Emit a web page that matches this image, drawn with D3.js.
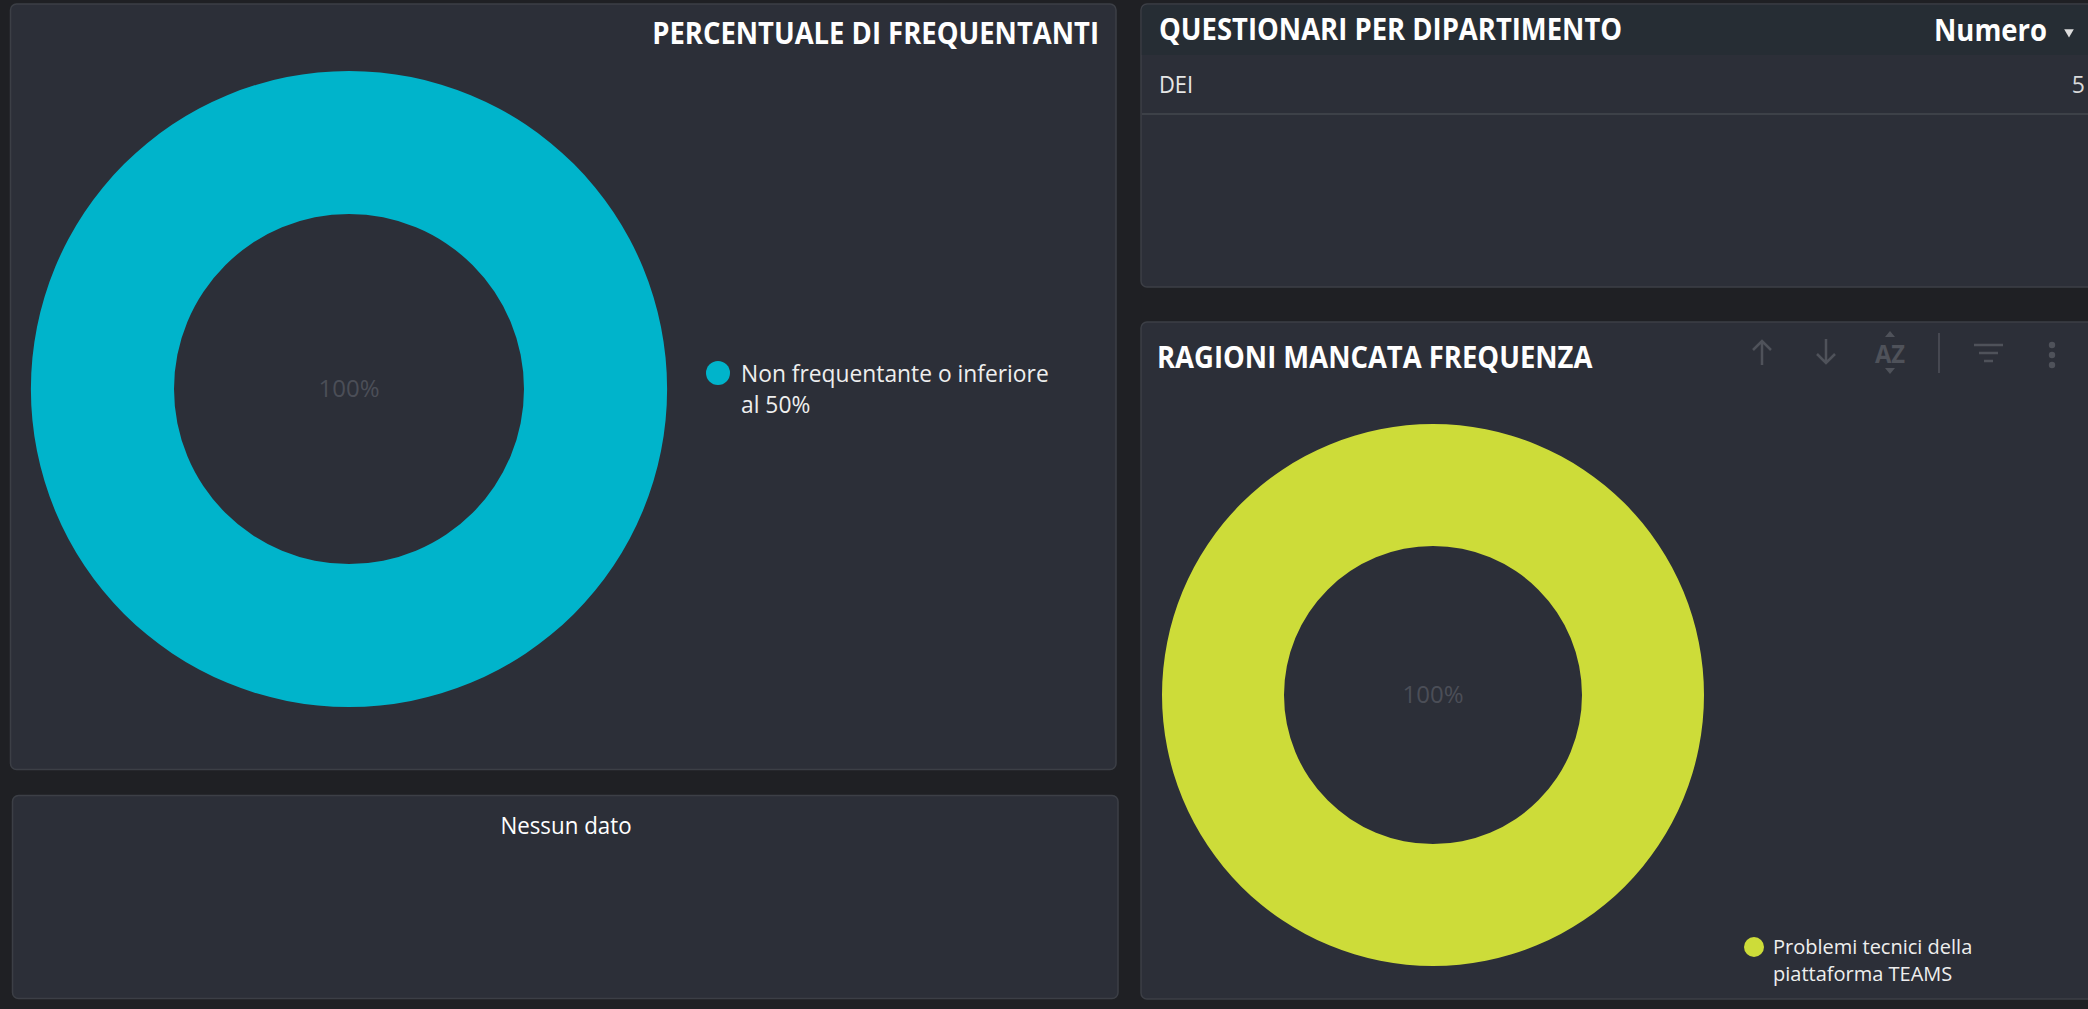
<!DOCTYPE html>
<html>
<head>
<meta charset="utf-8">
<script src="https://cdn.jsdelivr.net/npm/d3@7"></script>
<style>
  html, body { margin: 0; padding: 0; background: #1f2024; }
  svg { display: block; font-family: "Open Sans", "Noto Sans", sans-serif; }
</style>
</head>
<body>
<div id="dash"></div>
<script>
const freqLabels = ["Non frequentante o inferiore al 50%"];
const freqValues = [100];
const freqColors = ["#00b4cb"];

const deptNames = ["DEI"];
const deptCounts = [5];
const deptHeaders = ["QUESTIONARI PER DIPARTIMENTO", "Numero"];

const reasonLabels = ["Problemi tecnici della piattaforma TEAMS"];
const reasonValues = [100];
const reasonColors = ["#cddc39"];

const titles = ["PERCENTUALE DI FREQUENTANTI", "RAGIONI MANCATA FREQUENZA"];
const emptyText = "Nessun dato";

const W = 2088, H = 1009;
const svg = d3.select("#dash").append("svg").attr("width", W).attr("height", H);
svg.append("rect").attr("width", W).attr("height", H).attr("fill", "#1f2024");

// rende il testo un po' più stretto (il font originale è condensato)
function condense(sel, k) {
  sel.each(function () {
    const w = this.getComputedTextLength();
    d3.select(this).attr("textLength", w * k).attr("lengthAdjust", "spacingAndGlyphs");
  });
}

function panel(x, y, w, h) {
  return svg.append("rect")
    .attr("x", x).attr("y", y).attr("width", w).attr("height", h)
    .attr("rx", 6)
    .attr("fill", "#2c2f38")
    .attr("stroke", "#3c3f46")
    .attr("stroke-width", 1.5);
}

// titolo in grassetto, stile condensato
function title(x, y, txt, anchor) {
  return svg.append("text")
    .attr("x", x).attr("y", y)
    .attr("text-anchor", anchor || "start")
    .attr("font-size", 31).attr("font-weight", 700)
    .attr("fill", "#ffffff")
    .text(txt)
    .call(condense, 0.885);
}

// testo a capo su più righe
function wrapText(g, label, x, y, maxW, lineH, size, k) {
  const words = label.split(" ");
  const lines = [];
  let cur = [];
  const probe = g.append("text").attr("font-size", size);
  for (const w of words) {
    const test = cur.concat([w]).join(" ");
    probe.text(test);
    if (probe.node().getComputedTextLength() * k > maxW && cur.length) {
      lines.push(cur.join(" "));
      cur = [w];
    } else cur.push(w);
  }
  lines.push(cur.join(" "));
  probe.remove();
  lines.forEach((l, i) => {
    g.append("text")
      .attr("x", x).attr("y", y + i * lineH)
      .attr("font-size", size)
      .attr("fill", "#eeeeee")
      .text(l)
      .call(condense, k);
  });
}

function donut(cx, cy, rOut, rIn, labels, values, colors, lbl) {
  const g = svg.append("g").attr("transform", `translate(${cx},${cy})`);
  const pie = d3.pie().sort(null).value(d => d)(values);
  const arc = d3.arc().innerRadius(rIn).outerRadius(rOut);
  const color = d3.scaleOrdinal().domain(labels).range(colors);
  g.selectAll("path").data(pie).enter().append("path")
    .attr("d", arc)
    .attr("fill", (d, i) => color(labels[i]));
  const total = d3.sum(values);
  g.append("text")
    .attr("text-anchor", "middle")
    .attr("y", 8)
    .attr("font-size", lbl)
    .attr("fill", "#4b4e57")
    .text(d3.format(".0%")(values[0] / total));
  return color;
}

// ---- pannello 1: percentuale di frequentanti ----
panel(10.5, 4, 1105.5, 765.5);
title(1099, 44, titles[0], "end");

const c1 = donut(349, 389, 318, 175, freqLabels, freqValues, freqColors, 24);
const leg1 = svg.append("g");
freqLabels.forEach((l, i) => {
  leg1.append("circle").attr("cx", 718).attr("cy", 373 + i * 40).attr("r", 12).attr("fill", c1(l));
  wrapText(leg1, l, 741, 382 + i * 40, 320, 31, 24, 0.95);
});

// ---- pannello 3: nessun dato ----
panel(12.5, 795.5, 1105.5, 203);
svg.append("text")
  .attr("x", 566).attr("y", 834)
  .attr("text-anchor", "middle")
  .attr("font-size", 23)
  .attr("fill", "#ffffff")
  .text(emptyText)
  .call(condense, 0.97);

// ---- pannello 2: tabella questionari ----
panel(1141, 4, 960, 283);
svg.append("path")
  .attr("d", "M1141.75,55 V10 a5.5,5.5 0 0 1 5.5,-5.25 H2088 V55 Z")
  .attr("fill", "#262d34");
title(1159, 40, deptHeaders[0]);
title(2047, 41, deptHeaders[1], "end");
svg.append("path")
  .attr("d", d3.symbol(d3.symbolTriangle, 40)())
  .attr("transform", "translate(2069,32) rotate(180)")
  .attr("fill", "#dddddd");

const rowY = d3.scaleBand().domain(deptNames).range([55, 55 + 59 * deptNames.length]);
const rows = svg.append("g").selectAll("g").data(deptNames).enter().append("g");
rows.append("text")
  .attr("x", 1159).attr("y", d => rowY(d) + 38)
  .attr("font-size", 23).attr("fill", "#e6e6e6")
  .text(d => d)
  .call(condense, 0.95);
rows.append("text")
  .attr("x", 2085).attr("y", d => rowY(d) + 38)
  .attr("text-anchor", "end")
  .attr("font-size", 23).attr("fill", "#d9d9d9")
  .text((d, i) => deptCounts[i]);
rows.append("line")
  .attr("x1", 1142).attr("x2", W)
  .attr("y1", d => rowY(d) + rowY.bandwidth())
  .attr("y2", d => rowY(d) + rowY.bandwidth())
  .attr("stroke", "#3d4148").attr("stroke-width", 2);

// ---- pannello 4: ragioni mancata frequenza ----
panel(1141, 322, 960, 677);
title(1157, 368, titles[1]);

// icone della barra strumenti
const ic = svg.append("g").attr("stroke", "#4f525a").attr("fill", "none").attr("stroke-width", 2.5);
ic.append("path").attr("d", "M1762,365 V341 M1753,350 L1762,341 L1771,350");
ic.append("path").attr("d", "M1826,339 V363 M1817,354 L1826,363 L1835,354");
ic.append("line").attr("x1", 1939).attr("x2", 1939).attr("y1", 333).attr("y2", 373).attr("stroke-width", 1.5);
ic.append("path").attr("d", "M1974,345 H2003 M1979,353 H1998 M1984,361 H1993");
svg.append("text")
  .attr("x", 1890).attr("y", 363)
  .attr("text-anchor", "middle")
  .attr("font-size", 25).attr("font-weight", 700)
  .attr("fill", "#4f525a")
  .text("AZ")
  .call(condense, 0.95);
svg.append("path").attr("d", "M1885,337 L1890,331 L1895,337 Z M1885,368 L1890,374 L1895,368 Z").attr("fill", "#4f525a");
[345, 355, 365].forEach(y => svg.append("circle").attr("cx", 2052).attr("cy", y).attr("r", 3.2).attr("fill", "#4f525a"));

const c2 = donut(1433, 695, 271, 149, reasonLabels, reasonValues, reasonColors, 24);
const leg2 = svg.append("g");
reasonLabels.forEach((l, i) => {
  leg2.append("circle").attr("cx", 1754).attr("cy", 947 + i * 40).attr("r", 10).attr("fill", c2(l));
  wrapText(leg2, l, 1773, 954 + i * 40, 260, 27, 20, 1.0);
});
</script>
</body>
</html>
